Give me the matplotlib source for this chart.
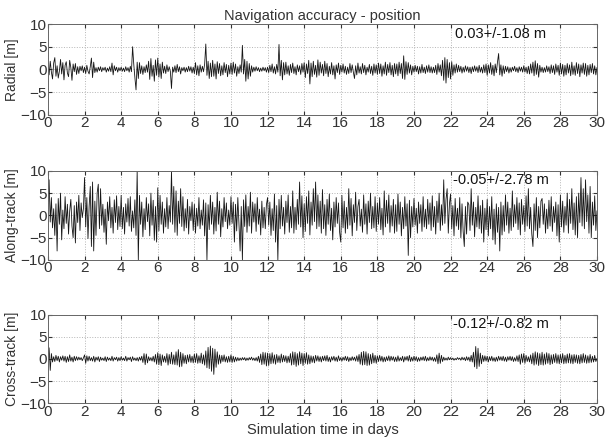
import numpy as np
import matplotlib.pyplot as plt

plt.rcParams['font.family'] = ['Liberation Sans', 'DejaVu Sans']

# values, 16 samples per day (one row per day), last value at day 30
radial = [
    0.3, -1.2, 1.8, -0.6, -2.1, 1.4, 2.6, -1.5, 0.8, -1.9, -0.4, 2.2, -1.0, 1.5, -2.3, 0.9,
    1.7, -0.8, -1.6, 2.0, 0.4, -2.4, 1.2, -0.5, 1.3, -1.1, 0.6, -0.9, 0.7, -0.3, 0.8, -0.7,
    0.5, -0.9, 0.9, -0.4, -1.0, 0.6, 2.5, -1.8, 1.6, -0.7, 0.4, -0.6, 0.5, -0.3, 0.6, -0.5,
    0.4, -0.2, 0.5, -0.6, 0.3, -0.4, 0.6, -0.5, 1.4, -1.2, 0.8, -0.3, 0.5, -0.6, 0.4, -0.3,
    0.5, -0.4, 0.3, -0.5, 0.6, -0.3, 0.4, -0.6, 0.7, -0.5, 5.0, 1.2, -1.8, -4.5, 1.6, -2.0,
    1.5, -0.9, 0.8, -1.1, 0.6, -0.7, 1.0, -0.6, 1.8, -2.2, 2.4, -1.5, 0.9, -2.6, 2.1, -1.3,
    2.5, -1.7, 1.2, -2.0, 1.6, -0.8, 0.7, -0.9, 1.0, -0.5, 0.6, -0.4, -4.2, 0.5, -0.6, 0.8,
    -0.7, 1.1, -0.5, 0.6, -1.0, 0.4, -0.3, 0.5, -0.6, 0.4, -0.5, 0.7, -0.4, 0.6, -0.8, 0.5,
    -0.9, 1.5, -1.2, 0.8, -1.4, 1.0, -0.6, 0.7, -0.5, 1.2, 5.6, -1.3, 1.8, -2.0, 1.4, -1.6,
    2.0, -1.5, 1.2, -2.1, 1.7, -0.9, 1.3, -1.4, 0.8, -1.2, 1.5, -0.7, 1.1, -1.6, 0.9, -1.0,
    1.4, -1.1, 1.6, -0.8, 1.2, -1.5, 0.6, -0.9, 1.0, -0.6, 5.3, -1.0, 2.2, -2.6, 1.8, -2.1,
    1.3, -1.5, 0.8, -0.6, 0.5, -0.4, 0.6, -0.3, 0.4, -0.5, 0.3, -0.4, 0.5, -0.3, 0.4, -0.6,
    0.5, -0.7, 0.9, -0.5, 1.2, -0.8, 0.6, -1.0, 1.1, -0.6, 5.5, -1.4, 2.0, -2.3, 1.5, -1.2,
    1.6, -1.0, 0.8, -1.3, 1.1, -0.7, 1.4, -0.9, 0.6, -1.2, 1.0, -0.5, 0.8, -1.1, 1.3, -0.6,
    1.5, -1.8, 1.2, -0.9, 2.0, -3.2, 1.4, -1.6, 1.8, -1.1, 0.9, -1.7, 2.1, -1.3, 1.6, -0.8,
    1.1, -1.4, 1.8, -0.9, 1.3, -1.6, 0.7, -1.0, 1.5, -1.2, 0.8, -2.1, 1.0, -0.7, 1.4, -1.1,
    0.9, -0.6, 1.2, -0.8, 0.7, -1.1, 0.5, -0.9, 1.3, -0.7, 1.0, -0.6, -2.0, 0.8, -1.2, 1.4,
    -0.8, 0.6, -1.0, 1.3, -0.7, 0.9, -1.2, 0.5, -0.6, 1.1, -0.9, 0.7, -1.3, 1.2, -0.8, 1.0,
    -1.1, 1.4, -0.9, 1.2, -1.5, 0.8, -1.0, 1.6, -1.3, 1.1, -0.7, 1.5, -1.2, 0.9, -1.6, 1.3,
    -1.0, 1.2, -1.4, 1.6, -0.9, 1.3, -2.0, 3.0, -2.2, 1.7, -1.1, 1.5, -0.8, 1.0, -1.2, 0.7,
    -0.6, 0.9, -0.5, 0.7, -1.0, 0.6, -0.8, 1.1, -0.7, 0.5, -0.9, 0.8, -0.6, 1.0, -0.7, 0.6,
    -0.8, 0.5, -0.7, 0.9, -1.1, 1.3, -0.6, 1.0, -1.4, 2.0, -2.4, 2.6, -3.0, 2.2, -1.8, 1.5,
    -2.1, 1.7, -1.3, 1.0, -0.8, 1.2, -0.6, 0.9, -0.5, 0.7, -0.8, 0.5, -0.6, 0.8, -0.4, 0.6,
    -0.7, 0.5, -0.9, 0.6, -0.5, 0.8, -0.4, 0.6, -0.7, 0.9, -0.6, 0.5, -0.8, 1.0, -0.7, 1.2,
    -1.3, 1.0, -0.8, 1.5, -1.1, 0.9, -1.4, 1.2, -0.7, 1.6, 3.5, -1.2, 1.0, -1.5, 0.8, -0.9,
    0.7, -0.5, 0.6, -0.8, 0.4, -0.6, 0.5, -0.3, 0.7, -0.5, 0.4, -0.7, 0.6, -0.4, 0.5, -0.6,
    0.8, -0.6, 0.5, -0.9, 0.7, -1.0, 1.2, -0.8, 1.6, -1.4, 1.9, -1.1, 1.3, -1.7, 0.9, -0.6,
    0.5, -0.7, 0.4, -0.6, 0.8, -0.5, 0.6, -0.9, 1.0, -0.7, 0.8, -1.1, 1.2, -0.6, 0.9, -1.3,
    1.4, -1.0, 1.1, -1.5, 0.9, -1.2, 1.3, -0.8, 1.0, -1.4, 1.6, -1.1, 0.8, -1.3, 1.5, -0.9,
    1.2, -1.6, 1.0, -0.8, 1.4, -1.1, 1.3, -1.5, 0.9, -1.2, 1.1, -0.7, 1.3, -1.0, 0.8, -1.2,
    0.4,
]

along = [
    3.2, 8.0, -1.5, 4.0, -2.8, 1.5, -4.5, 2.6, -8.0, 3.8, -2.0, 5.0, -5.5, 1.2, -3.0, 4.2,
    -1.8, 2.5, -4.2, 1.0, 3.6, -2.4, -5.0, 2.2, -6.2, 3.0, -1.6, 4.5, -3.4, 2.8, -0.5, 1.5,
    8.5, -2.6, 4.0, -5.2, 2.0, 6.5, -7.0, 7.5, -8.0, 3.2, -4.5, 5.0, 7.0, -3.0, 6.0, -2.2,
    2.5, -3.8, 1.4, -6.5, 3.0, -1.2, 4.2, -2.8, 1.8, -4.0, 3.5, -1.6, 4.4, -3.2, 2.0, -2.5,
    4.5, -3.0, 1.8, -4.2, 2.6, -1.5, 3.8, -2.4, 4.2, -3.6, 1.0, -2.8, 3.5, -4.5, 10.0, -10.0,
    4.5, -2.0, 3.0, -4.8, 1.5, -3.2, 4.0, -1.4, 2.6, -4.6, 5.0, -2.2, 3.4, -5.6, 2.0, -6.0,
    6.2, -3.5, 4.5, -2.0, 3.0, -4.0, 1.5, -2.6, 4.0, -3.0, 2.2, -1.5, 10.0, -2.0, 6.5, -3.8,
    5.5, -4.5, 3.2, -1.8, 6.0, -2.5, 4.2, -3.5, 1.5, -2.8, 3.6, -4.2, 2.0, -1.2, 3.0, -3.4,
    2.5, -4.0, 1.6, -2.4, 4.0, -3.0, 1.2, -2.2, 3.5, -4.6, 2.8, -10.0, 2.4, -3.2, 4.5, -2.0,
    3.0, -4.2, 1.8, -3.5, 5.2, -2.0, 3.2, -4.8, 1.5, -2.6, 4.0, -1.4, 2.8, -3.0, 1.2, -2.2,
    4.2, -1.8, 3.0, -6.0, 2.5, -3.5, 4.0, -2.2, -8.0, 2.0, -10.0, 3.5, -2.5, 4.6, -3.8, 2.0,
    -2.4, 5.2, -4.0, 3.0, -1.5, 2.6, -3.6, 4.0, -2.0, 1.4, -4.4, 3.2, -2.8, 1.8, -3.0, 2.4,
    4.0, -2.2, 3.0, -4.5, 1.5, -3.4, 4.8, -6.0, 2.2, -10.0, 3.6, -3.0, 4.5, -2.4, 1.8, -4.2,
    3.2, -1.6, 4.6, -3.8, 2.0, -2.8, 5.5, -4.0, 1.8, -3.2, 3.6, -2.0, 7.5, -2.6, 4.4, -5.0,
    2.6, -3.6, 4.2, -1.8, 5.5, -4.4, 3.0, -2.2, 6.0, -1.4, 7.5, -3.0, 4.6, -2.5, 3.2, -4.0,
    5.8, -3.0, 2.4, -4.5, 3.6, -2.0, 4.8, -3.4, 1.6, -5.5, 3.0, -2.6, 4.0, -1.8, 2.8, -3.8,
    -6.0, 4.5, -2.8, 3.2, -4.0, 1.8, -3.0, 6.0, -2.2, 3.8, -4.6, 2.4, -1.6, 5.2, -3.4, 2.0,
    3.6, -2.4, 1.4, -3.8, 4.6, -2.0, 2.6, -4.2, 3.2, -1.6, 5.0, -3.0, 2.0, -2.8, 4.2, -3.6,
    2.8, -2.0, 4.0, -3.2, 1.6, -4.4, 5.5, -2.6, 3.4, -1.8, 4.6, -3.8, 2.2, -2.4, 3.6, -4.0,
    2.4, -3.6, 4.8, -2.0, 3.0, -4.6, 1.8, -3.0, 4.2, -2.4, 2.6, -9.0, 3.4, -5.0, 2.0, -2.6,
    3.8, -2.2, 1.6, -4.0, 3.0, -1.8, 2.4, -3.6, 4.2, -2.6, 1.4, -3.0, 3.6, -2.0, 2.8, -3.4,
    4.4, -2.6, 2.0, -4.2, 3.2, -1.6, 5.0, -3.4, 2.4, -2.2, 8.0, -1.8, 3.6, 6.0, -4.0, 2.6,
    4.8, -3.0, 2.2, -4.6, 3.8, -2.4, 1.6, -3.2, 4.0, -5.0, 2.6, -3.6, -7.0, 2.0, -4.2, 3.0,
    2.4, -3.4, 6.0, -2.2, 3.0, -4.8, 1.8, -2.6, 4.4, -3.0, 2.2, -4.0, 3.4, -6.0, 1.6, -3.2,
    3.6, -4.6, 2.0, -3.0, 4.2, -5.5, 1.4, -6.5, 2.6, -3.8, 1.8, -8.0, 3.0, -4.4, 2.2, -3.6,
    4.6, -2.2, 3.0, -4.0, 1.6, -3.4, 5.5, -2.6, 2.4, -1.8, 4.0, -3.2, 2.8, -4.4, 3.6, -2.0,
    2.2, -3.6, 4.4, -2.4, 6.0, -3.0, 1.8, -4.2, -7.0, 2.6, -3.4, 4.0, -5.0, 2.0, -2.8, 3.2,
    3.8, -2.0, 2.6, -4.0, 1.4, -3.0, 3.4, -2.4, 4.2, -3.6, 2.0, -1.6, 3.0, -4.6, 2.4, -6.0,
    4.6, -2.6, 3.2, -3.8, 2.0, -2.2, 5.0, -4.0, 3.6, -1.8, 6.0, -3.2, 2.8, -4.4, 4.2, -5.0,
    5.0, -1.6, 8.5, -2.4, 6.0, -3.0, 8.0, -1.4, 4.6, -4.0, 6.5, -5.0, 3.0, -2.2, 4.4, -3.4,
    1.0,
]

cross = [
    0.4, 2.5, -2.6, 1.2, -0.7, 0.5, -0.6, 0.8, -0.4, 0.6, -0.7, 0.5, -0.3, 0.7, -0.5, 0.6,
    -0.8, 0.5, -0.6, 0.9, -0.5, 0.4, -0.7, 0.6, -0.4, 0.5, -0.3, 0.4, -0.2, 0.3, -0.4, 0.2,
    0.9, -1.0, 0.7, -0.5, 0.6, -0.4, 0.3, -0.5, 0.6, -0.7, 0.4, -0.3, 0.5, -0.6, 0.4, -0.3,
    0.2, -0.4, 0.5, -0.6, 0.4, -0.3, 0.2, -0.4, 0.6, -0.5, 0.3, -0.2, 0.4, -0.5, 0.3, -0.4,
    0.5, -0.3, 0.2, -0.4, 0.6, -0.5, 0.3, -0.2, 0.4, -0.6, 0.5, -0.3, 0.2, -0.4, 0.3, -0.5,
    0.4, -0.3, 0.6, -0.8, 1.2, -1.3, 1.1, -0.9, 0.5, -0.4, 0.3, -0.5, 0.6, -0.7, 1.0, -1.2,
    1.4, -1.3, 1.1, -1.5, 0.9, -0.7, 0.6, -0.8, 1.2, -1.4, 1.0, -1.1, 1.5, -1.2, 0.9, -1.3,
    1.6, -1.4, 2.1, -1.8, 1.5, -1.7, 1.2, -1.0, 0.8, -1.1, 0.9, -0.7, 1.0, -0.8, 0.6, -0.9,
    1.1, -0.8, 1.2, -1.0, 0.7, -0.9, 1.3, -1.1, 0.9, -1.4, 1.8, -2.0, 2.6, -2.2, 2.9, -2.8,
    2.4, -3.5, 2.2, -1.9, 1.6, -1.2, 0.9, -1.0, 0.8, -0.6, 0.9, -0.7, 0.5, -0.8, 0.6, -0.7,
    0.9, -0.8, 0.6, -0.7, 0.4, -0.5, 0.3, -0.4, 0.2, -0.3, 0.3, -0.2, 0.3, -0.4, 0.2, -0.3,
    0.3, -0.2, 0.4, -0.3, 0.2, -0.4, 0.3, -0.5, 0.6, -0.8, 1.1, -1.3, 1.5, -1.2, 1.4, -1.6,
    1.3, -1.5, 1.2, -1.1, 1.4, -1.0, 0.9, -1.2, 1.0, -0.8, 0.7, -0.9, 1.1, -0.7, 0.8, -0.6,
    0.7, -0.9, 0.6, -0.8, 1.2, -1.4, 1.6, -1.3, 1.5, -1.7, 1.2, -1.4, 1.6, -1.1, 1.3, -1.5,
    1.2, -1.0, 1.4, -1.2, 0.9, -1.1, 0.7, -0.8, 0.6, -0.9, 0.8, -0.5, 0.7, -0.6, 0.5, -0.7,
    0.6, -0.4, 0.7, -0.5, 0.8, -0.6, 0.4, -0.7, 0.5, -0.3, 0.6, -0.5, 0.4, -0.6, 0.7, -0.4,
    0.3, -0.5, 0.4, -0.3, 0.6, -0.4, 0.5, -0.6, 0.3, -0.4, 0.5, -0.3, 0.4, -0.5, 0.7, -0.6,
    1.0, -1.2, 1.5, -1.4, 1.7, -1.3, 1.6, -1.5, 1.2, -1.4, 1.0, -1.1, 1.3, -0.9, 0.8, -1.0,
    0.7, -0.6, 0.8, -0.5, 0.6, -0.7, 0.4, -0.6, 0.5, -0.4, 0.7, -0.5, 0.6, -0.3, 0.5, -0.6,
    0.4, -0.6, 0.7, -0.5, 0.3, -0.4, 0.6, -0.7, 0.5, -0.3, 0.6, -0.5, 0.8, -0.6, 0.4, -0.5,
    0.6, -0.4, 0.5, -0.6, 0.3, -0.5, 0.4, -0.3, 0.5, -0.4, 0.6, -0.5, 0.3, -0.4, 0.5, -0.3,
    0.4, -0.5, 0.3, -0.6, 0.9, -1.1, 1.3, -1.0, 0.8, -0.6, 0.4, -0.3, 0.2, -0.3, 0.4, -0.2,
    0.3, -0.2, 0.2, -0.3, 0.1, -0.2, 0.3, -0.1, 0.2, -0.3, 0.4, -0.2, 0.3, -0.4, 0.5, -0.3,
    0.4, -0.6, 0.8, -0.7, 1.5, -1.8, 2.8, -2.2, 2.4, -1.7, 1.3, -1.1, 0.8, -0.6, 0.7, -0.5,
    0.6, -0.7, 0.5, -0.4, 0.6, -0.5, 0.3, -0.6, 0.4, -0.5, 0.6, -0.3, 0.5, -0.4, 0.6, -0.5,
    0.4, -0.6, 0.5, -0.3, 0.6, -0.4, 0.5, -0.6, 0.3, -0.5, 0.7, -0.6, 0.9, -1.2, 1.1, -0.8,
    1.2, -1.0, 0.8, -0.6, 0.5, -0.7, 0.9, -1.1, 1.3, -1.4, 1.6, -1.2, 1.4, -1.5, 1.2, -1.3,
    1.5, -1.4, 1.1, -1.2, 1.4, -1.0, 1.2, -1.3, 0.9, -1.1, 1.0, -0.8, 1.2, -1.0, 0.9, -1.1,
    1.0, -0.9, 1.2, -1.1, 0.8, -1.0, 1.1, -0.9, 1.2, -1.0, 0.9, -1.1, 1.0, -0.8, 0.9, -1.0,
    0.8, -1.1, 1.0, -0.9, 1.2, -0.8, 0.9, -1.0, 0.7, -0.9, 1.0, -0.8, 0.6, -0.7, 0.8, -0.6,
    0.1,
]

series = [radial, along, cross]
ylabels = ["Radial [m]", "Along-track [m]", "Cross-track [m]"]
stats = ["0.03+/-1.08 m", "-0.05+/-2.78 m", "-0.12+/-0.82 m"]
# axes boxes in figure fractions [left, bottom, width, height]
boxes = [[0.079, 0.742, 0.9045, 0.204],
         [0.079, 0.416, 0.9045, 0.200],
         [0.079, 0.094, 0.9045, 0.199]]

fig = plt.figure(figsize=(6.07, 4.45), dpi=100)

for i in range(3):
    ax = fig.add_axes(boxes[i])
    days = np.linspace(0, 30, len(series[i]))
    ax.plot(days, series[i], color='#161616', linewidth=0.6)
    ax.set_xlim(0, 30)
    ax.set_ylim(-10, 10)
    ax.set_xticks(range(0, 31, 2))
    ax.set_yticks([-10, -5, 0, 5, 10])
    ax.grid(True, linestyle=':', color='#b5b5b5', linewidth=0.7)
    ax.tick_params(direction='in', labelsize=11, pad=1, length=3,
                   top=True, right=True, colors='#333333')
    ax.set_ylabel(ylabels[i], fontsize=10, color='#333333', labelpad=1)
    for s in ax.spines.values():
        s.set_color('#666666')
        s.set_linewidth(0.7)
    ax.text(0.825, 0.895, stats[i], transform=ax.transAxes, fontsize=10.5,
            ha='center', va='center', color='#111111')
    if i == 0:
        ax.set_title("Navigation accuracy - position", fontsize=10.5,
                     color='#333333', pad=3)
    if i == 2:
        ax.set_xlabel("Simulation time in days", fontsize=10.5,
                      color='#333333', labelpad=3)

plt.savefig("out.png", dpi=100)
